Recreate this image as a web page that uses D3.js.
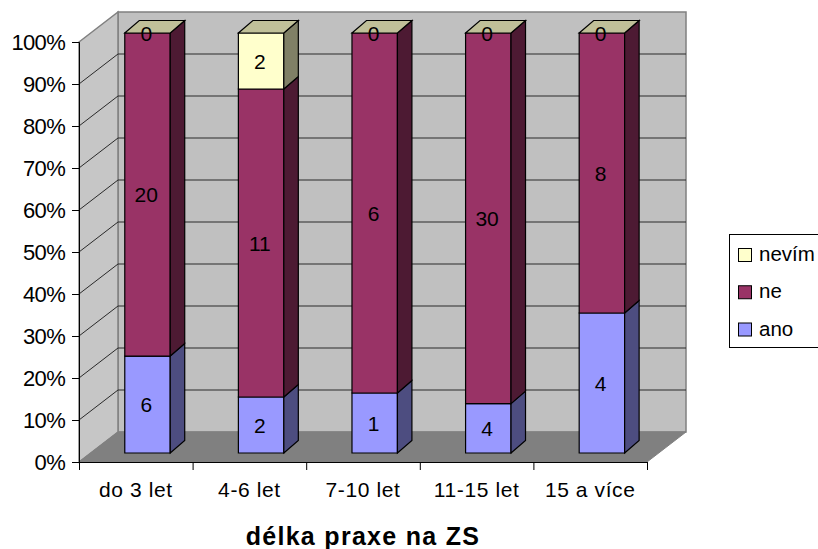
<!DOCTYPE html>
<html>
<head>
<meta charset="utf-8">
<script src="https://cdn.jsdelivr.net/npm/d3@7/dist/d3.min.js"></script>
<style>
html,body{margin:0;padding:0;background:#fff}
svg{display:block}
text{font-family:"Liberation Sans",Arial,sans-serif;fill:#000}
</style>
</head>
<body>
<svg id="chart" width="818" height="549"></svg>
<script>
// Survey counts per length of practice, stacked to 100 %
const categories = ["do 3 let", "4-6 let", "7-10 let", "11-15 let", "15 a více"];
const ano = [6, 2, 1, 4, 4];
const ne = [20, 11, 6, 30, 8];
const nevim = [0, 2, 0, 0, 0];
const seriesNames = ["ano", "ne", "nevím"];
const yTicks = [0, 10, 20, 30, 40, 50, 60, 70, 80, 90, 100];
const axisTitle = "délka praxe na ZS";

const faceColors = {
  "ano":   {front: "#9999ff", side: "#4d4d80"},
  "ne":    {front: "#993366", side: "#4d1a33"},
  "nevím": {front: "#ffffcc", side: "#808066", top: "#c0c099"}
};

const svg = d3.select("#chart");
const W = {left: 79, right: 647, bottom: 462, top: 42, dx: 39, dy: -30};
const barDepth = {dx: 14.5, dy: -12.5};
const barOffset = {dx: 11.7, dy: -9};

const x = d3.scaleBand().domain(categories).range([W.left, W.right]).paddingInner(0.6).paddingOuter(0.3);
const y = d3.scaleLinear().domain([0, 100]).range([W.bottom, W.top]);

const poly = pts => pts.map(p => p.join(",")).join(" ");

// Chart box: back wall, side wall, floor
svg.append("polygon").attr("points", poly([
  [W.left + W.dx, y(100) + W.dy], [W.right + W.dx, y(100) + W.dy],
  [W.right + W.dx, y(0) + W.dy], [W.left + W.dx, y(0) + W.dy]
])).attr("fill", "#c0c0c0").attr("stroke", "#808080").attr("stroke-width", 1.5);
svg.append("polygon").attr("points", poly([
  [W.left, y(100)], [W.left + W.dx, y(100) + W.dy],
  [W.left + W.dx, y(0) + W.dy], [W.left, y(0)]
])).attr("fill", "#c6c6c6").attr("stroke", "#808080").attr("stroke-width", 1.5);
svg.append("polygon").attr("points", poly([
  [W.left, y(0)], [W.right, y(0)],
  [W.right + W.dx, y(0) + W.dy], [W.left + W.dx, y(0) + W.dy]
])).attr("fill", "#808080").attr("stroke", "#808080");

// Gridlines wrapping from the side wall onto the back wall
const grid = yTicks.filter(t => t > 0 && t < 100);
svg.append("g").selectAll("polyline").data(grid).join("polyline")
  .attr("points", d => poly([
    [W.left, y(d)], [W.left + W.dx, y(d) + W.dy], [W.right + W.dx, y(d) + W.dy]
  ]))
  .attr("fill", "none").attr("stroke", "#2a2a2a").attr("stroke-width", 1);

// Axes
const yAxis = d3.axisLeft(y).tickValues(yTicks).tickFormat(d => d + "%").tickSize(7).tickPadding(7);
const yG = svg.append("g").attr("transform", `translate(${W.left},0)`).call(yAxis);
yG.select(".domain").attr("stroke", "#000");
yG.selectAll("text").attr("font-size", 22).attr("letter-spacing", -0.7).attr("font-family", "Liberation Sans");

const xBase = d3.scaleLinear().domain([0, categories.length]).range([W.left, W.right]);
const xAxis = d3.axisBottom(xBase).tickValues(d3.range(categories.length + 1)).tickFormat("").tickSize(8);
svg.append("g").attr("transform", `translate(0,${W.bottom})`).call(xAxis)
  .select(".domain").attr("stroke", "#000");

svg.append("g").selectAll("text").data(categories).join("text")
  .attr("x", d => x(d) + x.bandwidth() / 2)
  .attr("y", 497)
  .attr("text-anchor", "middle")
  .attr("font-size", 21)
  .attr("letter-spacing", 0.6)
  .text(d => d);

svg.append("text").attr("x", 363).attr("y", 545)
  .attr("text-anchor", "middle").attr("font-size", 25).attr("font-weight", "bold")
  .attr("letter-spacing", 1.3).text(axisTitle);

// Stacked 3D columns
const rows = categories.map((c, i) => ({category: c, "ano": ano[i], "ne": ne[i], "nevím": nevim[i]}));
const stacked = d3.stack().keys(seriesNames).offset(d3.stackOffsetExpand)(rows);
const bars = svg.append("g");
const labels = svg.append("g");

categories.forEach((c, i) => {
  const x0 = x(c) + barOffset.dx, x1 = x0 + x.bandwidth();
  stacked.forEach(layer => {
    const key = layer.key, seg = layer[i];
    const colors = faceColors[key];
    const yb = y(seg[0] * 100) + barOffset.dy, yt = y(seg[1] * 100) + barOffset.dy;
    if (yb > yt) {
      bars.append("polygon").attr("points", poly([[x0, yb], [x1, yb], [x1, yt], [x0, yt]]))
        .attr("fill", colors.front).attr("stroke", "#000").attr("stroke-width", 1.2);
      bars.append("polygon").attr("points", poly([
        [x1, yb], [x1 + barDepth.dx, yb + barDepth.dy], [x1 + barDepth.dx, yt + barDepth.dy], [x1, yt]
      ])).attr("fill", colors.side).attr("stroke", "#000").attr("stroke-width", 1.2);
    }
  });
  // Top cap belongs to the uppermost series, which is always nevím
  const yTop = y(100) + barOffset.dy;
  bars.append("polygon").attr("points", poly([
    [x0, yTop], [x1, yTop], [x1 + barDepth.dx, yTop + barDepth.dy], [x0 + barDepth.dx, yTop + barDepth.dy]
  ])).attr("fill", faceColors["nevím"].top).attr("stroke", "#000").attr("stroke-width", 1.2);

  stacked.forEach(layer => {
    const seg = layer[i];
    const ym = y((seg[0] + seg[1]) * 50) + barOffset.dy;
    labels.append("text").attr("x", x0 + x.bandwidth() / 2 - 1.2).attr("y", ym + 7.5)
      .attr("text-anchor", "middle").attr("font-size", 21).text(rows[i][layer.key]);
  });
});

// Legend, running off the right edge of the page
const legend = svg.append("g");
legend.append("rect").attr("x", 729.5).attr("y", 234.5).attr("width", 100).attr("height", 113)
  .attr("fill", "#fff").attr("stroke", "#000");
const legendY = d3.scalePoint().domain(["nevím", "ne", "ano"]).range([255, 329.5]);
legendY.domain().forEach(k => {
  legend.append("rect").attr("x", 738.5).attr("y", legendY(k) - 6.5).attr("width", 13).attr("height", 13)
    .attr("fill", faceColors[k].front).attr("stroke", "#000");
  legend.append("text").attr("x", 759).attr("y", legendY(k) + 6).attr("font-size", 20.5).text(k);
});
</script>
</body>
</html>
